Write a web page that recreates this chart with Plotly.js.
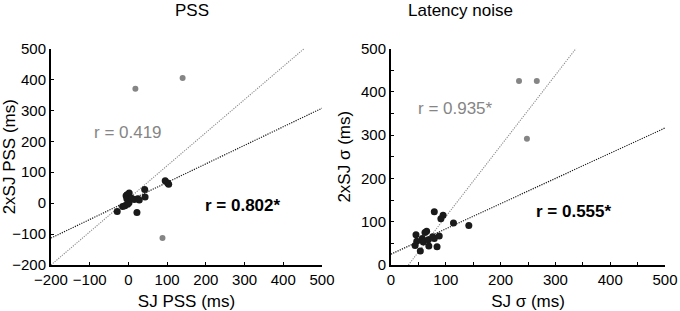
<!DOCTYPE html>
<html><head><meta charset="utf-8">
<script src="https://cdn.plot.ly/plotly-3.0.1.min.js"></script>
<style>body{margin:0;background:#fff}#c{width:680px;height:311px}</style>
</head><body><div id="c"></div>
<script>
// ---- PSS panel data ----
const pssIncX = [-29,-15,-9,-2,1.5,-3.6,-6,2,-4,8.5,15,24,28,22,42,43,95,101.5,104];
const pssIncY = [-27,-11,-8.5,-4,1,27,24,33,14,16,12,14,10,-30,44,20,72,65,61];
const pssOutX = [18,140,88];
const pssOutY = [370,405,-113];
const pssFitIncl = [1.07,14];   // slope, intercept (all data)
const pssFitExcl = [0.6,7];     // slope, intercept (black data)
const pssR = ["r = 0.419","r = 0.802*"];

// ---- Latency noise panel data ----
const latIncX = [79,95,91,114,142,45.6,65,62,57,59,68,76,79,88,47,44,69,84,53.5];
const latIncY = [123,115,107,97,91,70,78,75,61,53,58,65,61,67,55,45,44,42,32];
const latOutX = [233.6,266,248];
const latOutY = [425,425,291.5];
const latFitIncl = [1.635,-51.8];
const latFitExcl = [0.583,25];
const latR = ["r = 0.935*","r = 0.555*"];

const titles = ["PSS","Latency noise"];
const xTitles = ["SJ PSS (ms)","SJ σ (ms)"];
const yTitles = ["2xSJ PSS (ms)","2xSJ σ (ms)"];

const FONT = "Arial, 'Liberation Sans', sans-serif";
const BLACK = "#1a1a1a", GRAY = "#858585";

function fitLine(fit, xr, yr){
  const [m,b] = fit;
  let x0 = xr[0], x1 = xr[1];
  const xa = (yr[0]-b)/m, xb = (yr[1]-b)/m;
  x0 = Math.max(x0, Math.min(xa,xb));
  x1 = Math.min(x1, Math.max(xa,xb));
  return {x:[x0,x1], y:[m*x0+b, m*x1+b]};
}

const pr = [-200,500], lr = [0,500];
const traces = [];
function panel(xa, ya, incX, incY, outX, outY, fi, fe, xr, yr){
  const g = fitLine(fi, xr, yr), k = fitLine(fe, xr, yr);
  traces.push({x:g.x,y:g.y,xaxis:xa,yaxis:ya,mode:'lines',line:{color:'#8c8c8c',width:1.1,dash:'1.2px,1.2px'},hoverinfo:'skip'});
  traces.push({x:k.x,y:k.y,xaxis:xa,yaxis:ya,mode:'lines',line:{color:'#1a1a1a',width:1.2,dash:'1.2px,1.2px'},hoverinfo:'skip'});
  traces.push({x:outX,y:outY,xaxis:xa,yaxis:ya,mode:'markers',marker:{color:GRAY,size:6,symbol:'circle'}});
  traces.push({x:incX,y:incY,xaxis:xa,yaxis:ya,mode:'markers',marker:{color:BLACK,size:7,symbol:'circle'}});
}
panel('x','y',pssIncX,pssIncY,pssOutX,pssOutY,pssFitIncl,pssFitExcl,pr,pr);
panel('x2','y2',latIncX,latIncY,latOutX,latOutY,latFitIncl,latFitExcl,lr,lr);

const yd = [0.148,0.844];
function ax(dom, range, dtick, anchor, title, isX, minor){
  const a = {domain:dom, range:range, dtick:dtick, tick0:0, anchor:anchor,
    showgrid:false, zeroline:false, showline:true, linecolor:'#000', linewidth:2,
    ticks:'inside', ticklen:3, tickwidth:1, tickcolor:'#000',
    tickfont:{family:FONT,size:15,color:'#000'},
    title:{text:title, font:{family:FONT,size:17,color:'#000'}, standoff:isX?9:6},
    fixedrange:true};
  if(minor) a.minor = {dtick:minor, ticks:'inside', ticklen:3, tickwidth:1, tickcolor:'#000', showgrid:false};
  return a;
}
const layout = {
  width:680, height:311, margin:{l:0,r:0,t:0,b:0}, showlegend:false,
  paper_bgcolor:'#fff', plot_bgcolor:'#fff', font:{family:FONT},
  xaxis: ax([0.075,0.4735], [-200,500], 100, 'y', xTitles[0], true),
  yaxis: ax(yd, [-200,500], 100, 'x', yTitles[0], false),
  xaxis2: ax([0.575,0.978], [0,500], 100, 'y2', xTitles[1], true, 50),
  yaxis2: ax(yd, [0,500], 100, 'x2', yTitles[1], false, 50),
  annotations:[
    {text:titles[0], xref:'paper', yref:'paper', x:173/680, y:1-11/311, showarrow:false, font:{family:FONT,size:17,color:'#000'}, yanchor:'middle'},
    {text:titles[1], xref:'paper', yref:'paper', x:515/680, y:1-11/311, showarrow:false, font:{family:FONT,size:17,color:'#000'}, yanchor:'middle'},
    {text:pssR[0], xref:'x', yref:'y', x:0, y:227, showarrow:false, font:{family:FONT,size:17,color:GRAY}},
    {text:'<b>'+pssR[1]+'</b>', xref:'x', yref:'y', x:297, y:-8, showarrow:false, font:{family:FONT,size:17,color:'#000'}},
    {text:latR[0], xref:'x2', yref:'y2', x:118, y:362, showarrow:false, font:{family:FONT,size:17,color:GRAY}},
    {text:'<b>'+latR[1]+'</b>', xref:'x2', yref:'y2', x:334, y:123, showarrow:false, font:{family:FONT,size:17,color:'#000'}}
  ]
};
Plotly.newPlot('c', traces, layout, {staticPlot:true, displayModeBar:false});
</script></body></html>
